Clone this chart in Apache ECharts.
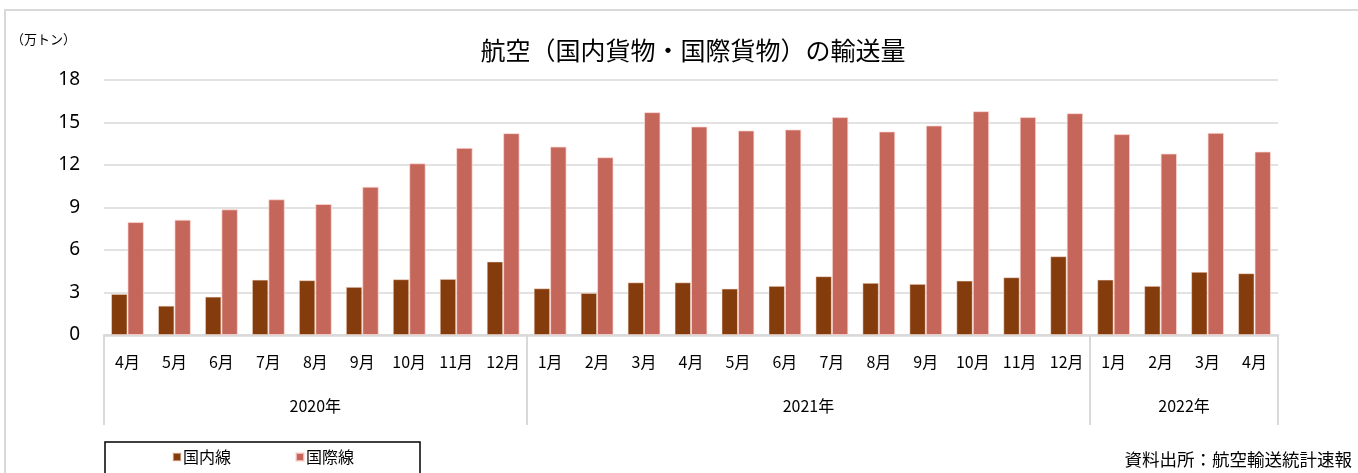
<!DOCTYPE html>
<html>
<head>
<meta charset="utf-8">
<script src="https://cdn.jsdelivr.net/npm/echarts@6/dist/echarts.min.js"></script>
<style>
html,body{margin:0;padding:0;background:#fff;}
#main{width:1358px;height:473px;}
</style>
</head>
<body>
<div id="main"></div>
<script>
// ---- data ----
var months = ['4月','5月','6月','7月','8月','9月','10月','11月','12月',
  '1月','2月','3月','4月','5月','6月','7月','8月','9月','10月','11月','12月',
  '1月','2月','3月','4月'];
var years = ['2020年','2021年','2022年'];
var domestic = [2.90,2.07,2.71,3.91,3.87,3.40,3.94,3.96,5.19,
  3.30,2.97,3.72,3.72,3.28,3.47,4.15,3.68,3.61,3.84,4.08,5.56,
  3.91,3.47,4.46,4.36];
var international = [7.97,8.14,8.87,9.58,9.25,10.47,12.12,13.21,14.25,
  13.30,12.55,15.73,14.72,14.44,14.51,15.38,14.37,14.79,15.80,15.38,15.66,
  14.18,12.81,14.27,12.95];
var yTicks = [0,3,6,9,12,15,18];

// year boundaries derived from month labels
var bounds = [0];
months.forEach(function(m, i){ if (i > 0 && m === '1月') bounds.push(i); });
bounds.push(months.length);
var yearCenters = [];
for (var i = 0; i < bounds.length - 1; i++) yearCenters.push((bounds[i] + bounds[i+1]) / 2);

var FONT = '"Noto Sans CJK JP", "Noto Sans", sans-serif';
var chart = echarts.init(document.getElementById('main'));
chart.setOption({
  backgroundColor: '#fff',
  animation: false,
  title: {
    text: '航空（国内貨物・国際貨物）の輸送量',
    left: 688, top: 33, textAlign: 'center',
    textStyle: {fontFamily: FONT, fontSize: 25, fontWeight: 'normal', color: '#000'}
  },
  graphic: [
    {type: 'rect', shape: {x: 5, y: 10, width: 1400, height: 520}, style: {fill: 'none', stroke: '#d9d9d9', lineWidth: 2}, z: -1},
    {type: 'text', left: 11, top: 33, style: {text: '（万トン）', font: '13px ' + FONT, fill: '#000'}},
    {type: 'text', right: 6, top: 451, style: {text: '資料出所：航空輸送統計速報', font: '17.5px ' + FONT, fill: '#000'}}
  ],
  legend: {
    left: 105, top: 442,
    padding: [7, 66, 14, 67],
    borderColor: '#000', borderWidth: 1.5,
    itemWidth: 8, itemHeight: 8, itemGap: 64,
    icon: 'rect',
    textStyle: {fontFamily: FONT, fontSize: 16, color: '#000', padding: [0,0,0,-3]},
    data: ['国内線','国際線']
  },
  grid: {left: 104, right: 80, top: 80, bottom: 138},
  xAxis: [
    {
      type: 'category', data: months,
      axisLine: {lineStyle: {color: '#d9d9d9', width: 2.5}},
      axisTick: {show: false},
      axisLabel: {margin: 19, fontFamily: FONT, fontSize: 16, color: '#000', interval: 0}
    },
    {
      type: 'value', min: 0, max: months.length, position: 'bottom',
      axisLine: {show: false},
      splitLine: {show: false},
      axisTick: {show: true, customValues: bounds, length: 90, lineStyle: {color: '#d9d9d9', width: 2}},
      axisLabel: {
        customValues: yearCenters, margin: 63,
        fontFamily: FONT, fontSize: 16, color: '#000',
        formatter: function(v){ var k = yearCenters.indexOf(v); return k >= 0 ? years[k] : ''; }
      }
    }
  ],
  yAxis: {
    type: 'value', min: 0, max: 18, interval: 3,
    axisLine: {show: false}, axisTick: {show: false},
    splitLine: {lineStyle: {color: '#d9d9d9', width: 1.5}},
    axisLabel: {margin: 24, fontFamily: '"Noto Sans", sans-serif', fontSize: 19, color: '#000',
      formatter: function(v){ return yTicks.indexOf(v) >= 0 ? String(v) : ''; }}
  },
  series: [
    {name: '国内線', type: 'bar', data: domestic, barGap: '0%', barCategoryGap: '30%',
     itemStyle: {color: '#843C0C', borderColor: 'rgba(255,230,220,0.5)', borderWidth: 1}},
    {name: '国際線', type: 'bar', data: international, barGap: '0%', barCategoryGap: '30%',
     itemStyle: {color: '#C5665A', borderColor: 'rgba(255,220,215,0.7)', borderWidth: 1}}
  ]
});
</script>
</body>
</html>
